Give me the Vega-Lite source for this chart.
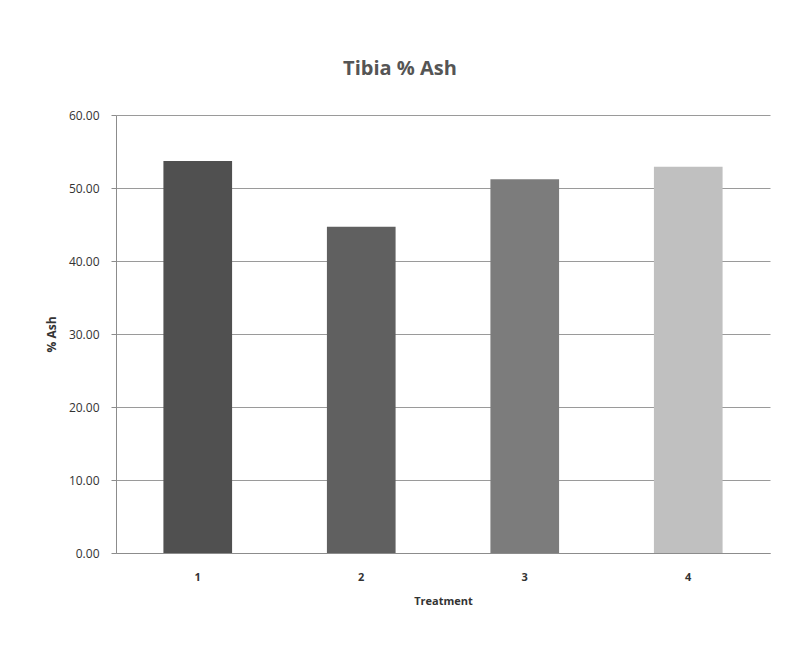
{
  "$schema": "https://vega.github.io/schema/vega-lite/v6.json",
  "autosize": "none",
  "width": 654,
  "height": 438,
  "padding": {"left": 116, "top": 115, "right": 38, "bottom": 105},
  "background": "white",
  "title": {
    "text": "Tibia % Ash",
    "fontSize": 20,
    "font": "Open Sans",
    "fontWeight": "bold",
    "color": "#555555",
    "anchor": "middle",
    "offset": 30,
    "dx": -43
  },
  "data": {
    "values": [
      {"Treatment": "1", "Ash": 53.7},
      {"Treatment": "2", "Ash": 44.7},
      {"Treatment": "3", "Ash": 51.2},
      {"Treatment": "4", "Ash": 52.9}
    ]
  },
  "mark": {"type": "bar"},
  "encoding": {
    "x": {
      "field": "Treatment",
      "type": "nominal",
      "scale": {"paddingInner": 0.58, "paddingOuter": 0.29},
      "axis": {
        "title": "Treatment",
        "labelAngle": 0,
        "labelFontSize": 11,
        "labelColor": "#333333",
        "labelFont": "Open Sans",
        "labelFontWeight": "bold",
        "labelPadding": 18,
        "titleFont": "Open Sans",
        "titleFontSize": 11,
        "titleFontWeight": "bold",
        "titleColor": "#333333",
        "titlePadding": 13,
        "ticks": false,
        "domainColor": "#8c8c8c"
      }
    },
    "y": {
      "field": "Ash",
      "type": "quantitative",
      "scale": {"domain": [0, 60]},
      "axis": {
        "title": "% Ash",
        "values": [0, 10, 20, 30, 40, 50, 60],
        "format": ".2f",
        "labelFontSize": 12,
        "labelColor": "#333333",
        "labelFont": "Open Sans",
        "labelPadding": 12,
        "tickSize": 5,
        "tickColor": "#8c8c8c",
        "titleFont": "Open Sans",
        "titleFontSize": 12,
        "titleFontWeight": "bold",
        "titleColor": "#333333",
        "titlePadding": 10,
        "gridColor": "#9a9a9a",
        "domainColor": "#8c8c8c"
      }
    },
    "color": {
      "field": "Treatment",
      "type": "nominal",
      "scale": {"range": ["#505050", "#606060", "#7c7c7c", "#c0c0c0"]},
      "legend": null
    }
  },
  "config": {"view": {"stroke": null}}
}
